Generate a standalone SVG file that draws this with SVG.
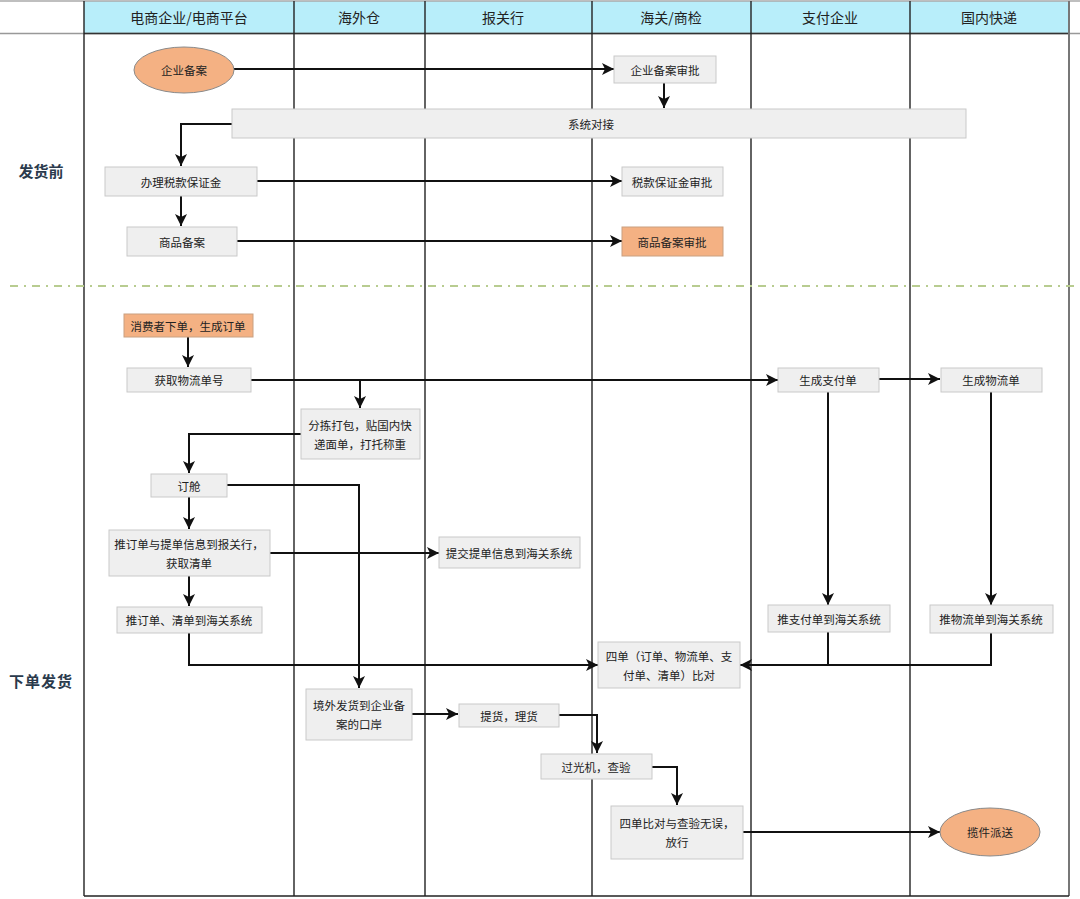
<svg xmlns="http://www.w3.org/2000/svg" width="1080" height="899" viewBox="0 0 1080 899">
<defs>
<marker id="arr" markerUnits="userSpaceOnUse" markerWidth="12" markerHeight="12" refX="10" refY="5" orient="auto" viewBox="0 0 10 10">
<path d="M0,0 L10,5 L0,10 L2.5,5 z" fill="#111"/>
</marker>
<style>
.hdr{fill:#b8eefa;stroke:none}
.ht{font-family:"Noto Sans CJK SC","Noto Sans",sans-serif;font-size:14px;fill:#222;text-anchor:middle;dominant-baseline:central}
.lane{stroke:#222;stroke-width:1.4;fill:none}
.box{fill:#efefef;stroke:#c9c9c9;stroke-width:1}
.obox{fill:#f4b183;stroke:#c9a080;stroke-width:1}
.oell{fill:#f4b183;stroke:#8a8a8a;stroke-width:1}
.t{font-family:"Noto Sans CJK SC","Noto Sans",sans-serif;font-size:11.5px;fill:#222;text-anchor:middle;dominant-baseline:central}
.ph{font-family:"Noto Sans CJK SC","Noto Sans",sans-serif;font-size:15px;font-weight:bold;fill:#2a3a4c;text-anchor:middle;dominant-baseline:central}
.c{stroke:#111;stroke-width:2;fill:none}
.ca{stroke:#111;stroke-width:2;fill:none;marker-end:url(#arr)}
</style>
</defs>
<rect x="0" y="0" width="1080" height="899" fill="#fff"/>

<g id="header">
<rect class="hdr" x="84" y="1" width="985" height="32"/>
<line x1="0" y1="1" x2="1080" y2="1" stroke="#aaa" stroke-width="1.5"/>
<line x1="0" y1="33.5" x2="1080" y2="33.5" stroke="#999" stroke-width="1.5"/>
<line x1="84" y1="33.5" x2="1069" y2="33.5" stroke="#333" stroke-width="1.5"/>
<text class="ht" x="189" y="17">电商企业/电商平台</text>
<text class="ht" x="359" y="17">海外仓</text>
<text class="ht" x="503" y="17">报关行</text>
<text class="ht" x="671" y="17">海关/商检</text>
<text class="ht" x="830" y="17">支付企业</text>
<text class="ht" x="989" y="17">国内快递</text>
</g>

<g id="lanes">
<line class="lane" x1="84" y1="1" x2="84" y2="896"/>
<line class="lane" x1="294" y1="1" x2="294" y2="896" stroke="#444"/>
<line class="lane" x1="425" y1="1" x2="425" y2="896"/>
<line class="lane" x1="592" y1="1" x2="592" y2="896"/>
<line class="lane" x1="751" y1="1" x2="751" y2="896"/>
<line class="lane" x1="910" y1="1" x2="910" y2="896" stroke="#444"/>
<line x1="1069" y1="1" x2="1069" y2="896" stroke="#777" stroke-width="2"/>
<line class="lane" x1="84" y1="896" x2="1069" y2="896"/>
<line x1="10" y1="286" x2="1080" y2="286" stroke="#b8cc90" stroke-width="2" stroke-dasharray="8,6,2,6"/>
</g>

<g id="phases">
<text class="ph" x="41" y="170">发货前</text>
<text class="ph" x="41" y="680" letter-spacing="1">下单发货</text>
</g>

<g id="connectors">
<path class="ca" d="M234,69 H614"/>
<path class="ca" d="M664,82 V108"/>
<path class="ca" d="M232,124 H181 V166"/>
<path class="ca" d="M257,181 H622"/>
<path class="ca" d="M181,196 V226"/>
<path class="ca" d="M237,241 H622"/>
<path class="ca" d="M188,337 V367"/>
<path class="ca" d="M251,380 H778"/>
<path class="ca" d="M360,380 V408"/>
<path class="ca" d="M879,379 H940"/>
<path class="ca" d="M301,434 H189 V473"/>
<path class="ca" d="M189,497 V529"/>
<path class="ca" d="M227,485 H359 V688"/>
<path class="ca" d="M270,553 H439"/>
<path class="ca" d="M189,576 V606"/>
<path class="ca" d="M189,633 V665 H598"/>
<path class="ca" d="M828,391 V605"/>
<path class="ca" d="M991,391 V605"/>
<path class="ca" d="M828,632 V665 H740"/>
<path class="c" d="M991,633 V665 H828"/>
<path class="ca" d="M412,714 H458"/>
<path class="ca" d="M559,715 H597 V753"/>
<path class="ca" d="M652,767 H677 V805"/>
<path class="ca" d="M743,832 H940"/>
</g>

<g id="n-qiyebeian"><ellipse class="oell" cx="184" cy="70" rx="50" ry="23"/><text class="t" x="184" y="70">企业备案</text></g>
<g id="n-qiyebeianshenpi"><rect class="box" x="614" y="56" width="102" height="27"/><text class="t" x="665" y="69.5">企业备案审批</text></g>
<g id="n-xitongduijie"><rect class="box" x="232" y="109" width="734" height="29"/><text class="t" x="591" y="123.5">系统对接</text></g>
<g id="n-banli"><rect class="box" x="105" y="167" width="152" height="29"/><text class="t" x="181" y="181.5">办理税款保证金</text></g>
<g id="n-shuikuanshenpi"><rect class="box" x="622" y="167" width="101" height="29"/><text class="t" x="672" y="181.5">税款保证金审批</text></g>
<g id="n-shangpinbeian"><rect class="box" x="127" y="227" width="110" height="29"/><text class="t" x="182" y="241.5">商品备案</text></g>
<g id="n-shangpinshenpi"><rect class="obox" x="622" y="227" width="101" height="29" stroke="#888"/><text class="t" x="672" y="241.5">商品备案审批</text></g>

<g id="n-xiadan"><rect class="obox" x="124" y="314" width="129" height="23"/><text class="t" x="188" y="325.5">消费者下单，生成订单</text></g>
<g id="n-huoqu"><rect class="box" x="127" y="368" width="124" height="24"/><text class="t" x="189" y="380">获取物流单号</text></g>
<g id="n-zhifudan"><rect class="box" x="778" y="368" width="101" height="24"/><text class="t" x="828" y="380">生成支付单</text></g>
<g id="n-wuliudan"><rect class="box" x="941" y="368" width="101" height="24"/><text class="t" x="991" y="380">生成物流单</text></g>
<g id="n-fenjian"><rect class="box" x="301" y="409" width="119" height="50"/><text class="t" x="360" y="425">分拣打包，贴国内快</text><text class="t" x="360" y="444">递面单，打托称重</text></g>
<g id="n-dingcang"><rect class="box" x="151" y="474" width="76" height="23"/><text class="t" x="189" y="485.5">订舱</text></g>
<g id="n-tuidingdan"><rect class="box" x="109" y="530" width="161" height="46"/><text class="t" x="189" y="544">推订单与提单信息到报关行，</text><text class="t" x="189" y="563">获取清单</text></g>
<g id="n-tijiao"><rect class="box" x="439" y="537" width="141" height="31"/><text class="t" x="509" y="552.5">提交提单信息到海关系统</text></g>
<g id="n-tuiqingdan"><rect class="box" x="117" y="607" width="145" height="26"/><text class="t" x="189" y="620">推订单、清单到海关系统</text></g>
<g id="n-tuizhifu"><rect class="box" x="768" y="605" width="122" height="27"/><text class="t" x="829" y="618.5">推支付单到海关系统</text></g>
<g id="n-tuiwuliu"><rect class="box" x="930" y="605" width="123" height="28"/><text class="t" x="991" y="619">推物流单到海关系统</text></g>
<g id="n-sidan"><rect class="box" x="598" y="642" width="142" height="46"/><text class="t" x="669" y="656">四单（订单、物流单、支</text><text class="t" x="669" y="675">付单、清单）比对</text></g>
<g id="n-jingwai"><rect class="box" x="306" y="689" width="106" height="51"/><text class="t" x="359" y="705">境外发货到企业备</text><text class="t" x="359" y="724">案的口岸</text></g>
<g id="n-tihuo"><rect class="box" x="459" y="704" width="100" height="23"/><text class="t" x="509" y="715.5">提货，理货</text></g>
<g id="n-guoguang"><rect class="box" x="541" y="754" width="111" height="25"/><text class="t" x="596" y="766.5">过光机，查验</text></g>
<g id="n-fangxing"><rect class="box" x="611" y="806" width="132" height="53"/><text class="t" x="677" y="823">四单比对与查验无误，</text><text class="t" x="677" y="842">放行</text></g>
<g id="n-lanjian"><ellipse class="oell" cx="990" cy="832" rx="50" ry="24"/><text class="t" x="990" y="832">揽件派送</text></g>
</svg>
